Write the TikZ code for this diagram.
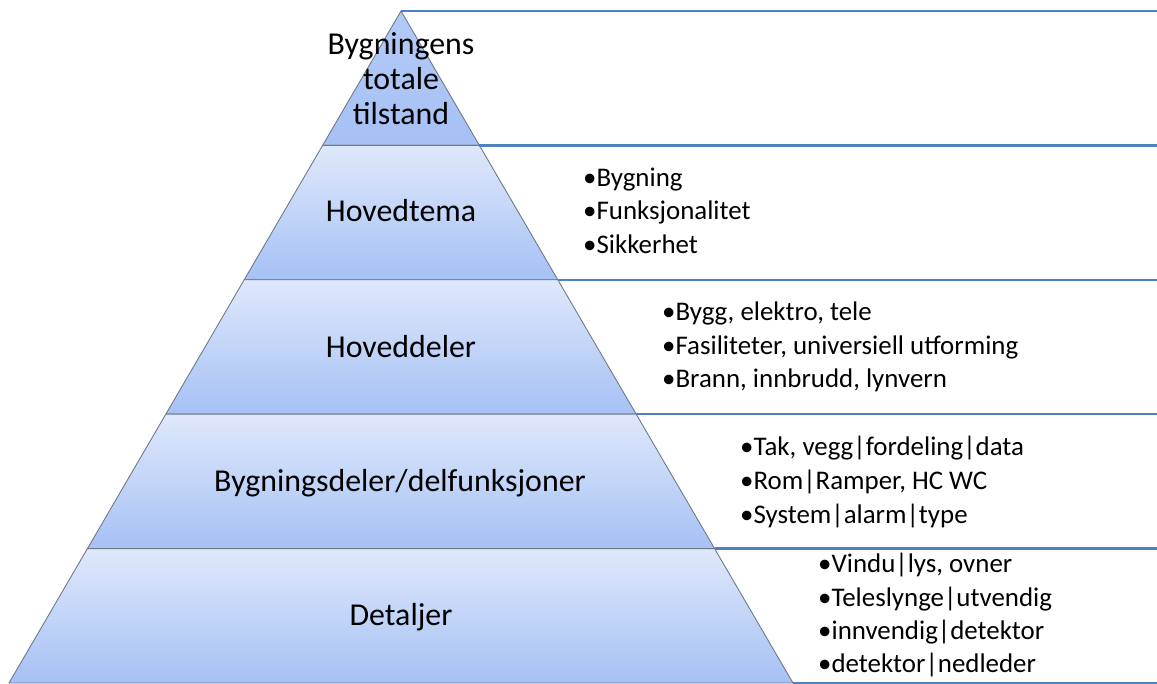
\documentclass[tikz,border=0pt]{standalone}
\usepackage{fontspec}
\setmainfont{Carlito}
\usetikzlibrary{calc}
\definecolor{Rule}{HTML}{4F81BD}
\definecolor{Edge}{HTML}{6E7A8C}
\definecolor{LayerTint}{HTML}{DFE8FB}
\definecolor{LayerBlue}{HTML}{A6C1F5}
\definecolor{ApexBlue}{HTML}{B2CAF6}
\tikzset{
  layer/.style={top color=LayerTint,bottom color=LayerBlue,draw=Edge,line width=0.9bp},
  rim/.style={draw=Rule,line width=2.5bp},
  label/.style={font=\fontsize{32}{35}\selectfont,inner sep=0bp},
  item/.style={font=\fontsize{27}{27}\selectfont,inner sep=0bp,anchor=base west},
}
\newcommand{\figitem}[4]{
  \node[item] (#1) at (#2,#3) {•#4};
}

\begin{document}
\begin{tikzpicture}[x=1bp,y=-1bp]
  \path[use as bounding box] (0,0) rectangle (1157,684);

  % corners of the pyramid, split in five equal bands
  \coordinate (apex) at (401,11);
  \coordinate (bl) at (9,683);
  \coordinate (br) at (793,683);
  \coordinate (edge) at (1157,0);
  \foreach \i in {0,...,5} {
    \coordinate (l\i) at ($(apex)!\i/5!(bl)$);
    \coordinate (r\i) at ($(apex)!\i/5!(br)$);
  }

  \shade[layer,top color=ApexBlue] (apex) -- (r1) -- (l1) -- cycle;
  \foreach \i [count=\j from 2] in {1,...,4} {
    \shade[layer] (l\i) -- (r\i) -- (r\j) -- (l\j) -- cycle;
  }

  \draw[rim] (apex) -- (apex -| edge);
  \foreach \i in {1,...,5} {
    \draw[rim] (r\i) -- (r\i -| edge);
  }

  \node[label,align=center] (tilstand) at (401,79) {Bygningens\\totale\\tilstand};
  \node[label,anchor=base] (tema) at (401,222) {Hovedtema};
  \node[label,anchor=base] (deler) at (401,357) {Hoveddeler};
  \node[label,anchor=base] (bygdeler) at (400,491) {Bygningsdeler/delfunksjoner};
  \node[label,anchor=base] (detaljer) at (401,625) {Detaljer};

  \figitem{bygning}{583}{187}{Bygning}
  \figitem{funksjon}{583}{220}{Funksjonalitet}
  \figitem{sikkerhet}{583}{253}{Sikkerhet}

  \figitem{bygg}{662}{320}{Bygg, elektro, tele}
  \figitem{fasilitet}{662}{354}{Fasiliteter, universiell utforming}
  \figitem{brann}{662}{387}{Brann, innbrudd, lynvern}

  \figitem{tak}{740}{455}{Tak, vegg|fordeling|data}
  \figitem{rom}{740}{489}{Rom|Ramper, HC WC}
  \figitem{system}{740}{523}{System|alarm|type}

  \figitem{vindu}{818}{572}{Vindu|lys, ovner}
  \figitem{slynge}{818}{606}{Teleslynge|utvendig}
  \figitem{innvendig}{818}{639}{innvendig|detektor}
  \figitem{nedleder}{818}{672}{detektor|nedleder}
\end{tikzpicture}
\end{document}
